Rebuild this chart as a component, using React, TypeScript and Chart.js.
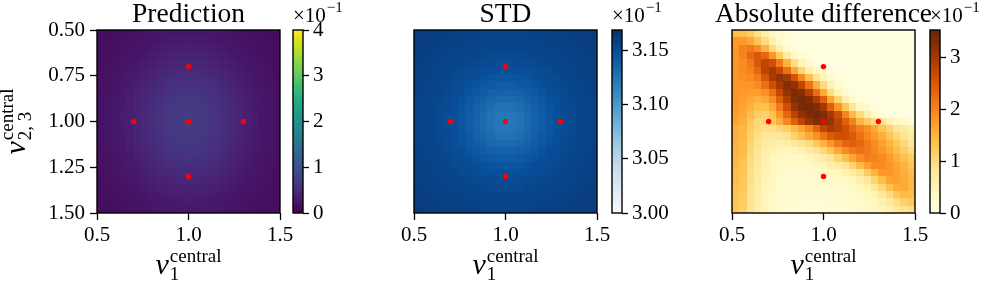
import React, { useEffect, useRef } from "react";
import { Chart, registerables } from "chart.js";

Chart.register(...registerables);

// ---------------- data ----------------
const NU1_CENTERS = [0.52, 0.56, 0.6, 0.64, 0.68, 0.72, 0.76, 0.8, 0.84, 0.88, 0.92, 0.96, 1.0, 1.04, 1.08, 1.12, 1.16, 1.2, 1.24, 1.28, 1.32, 1.36, 1.4, 1.44, 1.48];
const NU23_CENTERS = [0.52, 0.56, 0.6, 0.64, 0.68, 0.72, 0.76, 0.8, 0.84, 0.88, 0.92, 0.96, 1.0, 1.04, 1.08, 1.12, 1.16, 1.2, 1.24, 1.28, 1.32, 1.36, 1.4, 1.44, 1.48];
const CELL_HALF = 0.02;

const X_TICKS = [0.5, 1.0, 1.5];
const Y_TICKS = [0.5, 0.75, 1.0, 1.25, 1.5];

const SAMPLE_NU1 = [1.0, 0.7, 1.0, 1.3, 1.0];
const SAMPLE_NU23 = [0.7, 1.0, 1.0, 1.0, 1.3];

const PRED_TICKS = [0, 1, 2, 3, 4];
const STD_TICKS = [3.0, 3.05, 3.1, 3.15];
const DIFF_TICKS = [0, 1, 2, 3];
const PRED_LIMITS = [0, 4];
const STD_LIMITS = [3.0, 3.169];
const DIFF_LIMITS = [0, 3.53];

// values in units of 1e-1
const PREDICTION = [
  [0.12,0.13,0.14,0.15,0.17,0.18,0.20,0.21,0.23,0.24,0.25,0.26,0.26,0.26,0.25,0.24,0.23,0.21,0.20,0.18,0.17,0.15,0.14,0.13,0.12],
  [0.13,0.14,0.15,0.17,0.18,0.20,0.22,0.24,0.26,0.27,0.29,0.29,0.30,0.29,0.29,0.27,0.26,0.24,0.22,0.20,0.18,0.17,0.15,0.14,0.13],
  [0.14,0.15,0.16,0.18,0.20,0.22,0.24,0.27,0.29,0.31,0.33,0.34,0.34,0.34,0.33,0.31,0.29,0.27,0.24,0.22,0.20,0.18,0.16,0.15,0.14],
  [0.14,0.16,0.18,0.20,0.22,0.24,0.27,0.30,0.33,0.35,0.37,0.38,0.39,0.38,0.37,0.35,0.33,0.30,0.27,0.24,0.22,0.20,0.18,0.16,0.14],
  [0.15,0.17,0.19,0.21,0.24,0.27,0.30,0.34,0.37,0.39,0.42,0.43,0.44,0.43,0.42,0.39,0.37,0.34,0.30,0.27,0.24,0.21,0.19,0.17,0.15],
  [0.16,0.18,0.20,0.23,0.26,0.29,0.33,0.37,0.40,0.43,0.46,0.48,0.48,0.48,0.46,0.43,0.40,0.37,0.33,0.29,0.26,0.23,0.20,0.18,0.16],
  [0.16,0.19,0.21,0.24,0.28,0.32,0.36,0.40,0.44,0.48,0.51,0.52,0.53,0.52,0.51,0.48,0.44,0.40,0.36,0.32,0.28,0.24,0.21,0.19,0.16],
  [0.17,0.19,0.22,0.26,0.29,0.34,0.38,0.43,0.47,0.51,0.55,0.56,0.57,0.56,0.55,0.51,0.47,0.43,0.38,0.34,0.29,0.26,0.22,0.19,0.17],
  [0.18,0.20,0.23,0.27,0.31,0.36,0.41,0.46,0.51,0.55,0.59,0.61,0.62,0.61,0.59,0.55,0.51,0.46,0.41,0.36,0.31,0.27,0.23,0.20,0.18],
  [0.18,0.21,0.24,0.28,0.33,0.38,0.43,0.49,0.54,0.58,0.62,0.64,0.65,0.64,0.62,0.58,0.54,0.49,0.43,0.38,0.33,0.28,0.24,0.21,0.18],
  [0.19,0.22,0.25,0.29,0.34,0.39,0.45,0.50,0.56,0.60,0.64,0.66,0.68,0.66,0.64,0.60,0.56,0.50,0.45,0.39,0.34,0.29,0.25,0.22,0.19],
  [0.19,0.22,0.25,0.30,0.34,0.40,0.46,0.52,0.57,0.62,0.66,0.68,0.69,0.68,0.66,0.62,0.57,0.52,0.46,0.40,0.34,0.30,0.25,0.22,0.19],
  [0.19,0.22,0.26,0.30,0.35,0.40,0.46,0.52,0.57,0.62,0.66,0.69,0.70,0.69,0.66,0.62,0.57,0.52,0.46,0.40,0.35,0.30,0.26,0.22,0.19],
  [0.19,0.22,0.25,0.30,0.34,0.40,0.46,0.52,0.57,0.62,0.66,0.68,0.69,0.68,0.66,0.62,0.57,0.52,0.46,0.40,0.34,0.30,0.25,0.22,0.19],
  [0.19,0.22,0.25,0.29,0.34,0.39,0.45,0.50,0.56,0.60,0.64,0.66,0.68,0.66,0.64,0.60,0.56,0.50,0.45,0.39,0.34,0.29,0.25,0.22,0.19],
  [0.18,0.21,0.24,0.28,0.33,0.38,0.43,0.49,0.54,0.58,0.62,0.64,0.65,0.64,0.62,0.58,0.54,0.49,0.43,0.38,0.33,0.28,0.24,0.21,0.18],
  [0.18,0.20,0.23,0.27,0.31,0.36,0.41,0.46,0.51,0.55,0.59,0.61,0.62,0.61,0.59,0.55,0.51,0.46,0.41,0.36,0.31,0.27,0.23,0.20,0.18],
  [0.17,0.19,0.22,0.26,0.29,0.34,0.38,0.43,0.47,0.51,0.55,0.56,0.57,0.56,0.55,0.51,0.47,0.43,0.38,0.34,0.29,0.26,0.22,0.19,0.17],
  [0.16,0.19,0.21,0.24,0.28,0.32,0.36,0.40,0.44,0.48,0.51,0.52,0.53,0.52,0.51,0.48,0.44,0.40,0.36,0.32,0.28,0.24,0.21,0.19,0.16],
  [0.16,0.18,0.20,0.23,0.26,0.29,0.33,0.37,0.40,0.43,0.46,0.48,0.48,0.48,0.46,0.43,0.40,0.37,0.33,0.29,0.26,0.23,0.20,0.18,0.16],
  [0.15,0.17,0.19,0.21,0.24,0.27,0.30,0.34,0.37,0.39,0.42,0.43,0.44,0.43,0.42,0.39,0.37,0.34,0.30,0.27,0.24,0.21,0.19,0.17,0.15],
  [0.14,0.16,0.18,0.20,0.22,0.24,0.27,0.30,0.33,0.35,0.37,0.38,0.39,0.38,0.37,0.35,0.33,0.30,0.27,0.24,0.22,0.20,0.18,0.16,0.14],
  [0.14,0.15,0.16,0.18,0.20,0.22,0.24,0.27,0.29,0.31,0.33,0.34,0.34,0.34,0.33,0.31,0.29,0.27,0.24,0.22,0.20,0.18,0.16,0.15,0.14],
  [0.13,0.14,0.15,0.17,0.18,0.20,0.22,0.24,0.26,0.27,0.29,0.29,0.30,0.29,0.29,0.27,0.26,0.24,0.22,0.20,0.18,0.17,0.15,0.14,0.13],
  [0.12,0.13,0.14,0.15,0.17,0.18,0.20,0.21,0.23,0.24,0.25,0.26,0.26,0.26,0.25,0.24,0.23,0.21,0.20,0.18,0.17,0.15,0.14,0.13,0.12],
];

const STD = [
  [3.161,3.160,3.160,3.160,3.159,3.159,3.158,3.158,3.158,3.157,3.157,3.157,3.157,3.157,3.157,3.157,3.158,3.158,3.158,3.159,3.159,3.160,3.160,3.160,3.161],
  [3.160,3.160,3.160,3.159,3.159,3.158,3.158,3.157,3.157,3.156,3.156,3.156,3.156,3.156,3.156,3.156,3.157,3.157,3.158,3.158,3.159,3.159,3.160,3.160,3.160],
  [3.160,3.160,3.159,3.158,3.158,3.157,3.157,3.156,3.156,3.155,3.155,3.155,3.155,3.155,3.155,3.155,3.156,3.156,3.157,3.157,3.158,3.158,3.159,3.160,3.160],
  [3.160,3.159,3.158,3.158,3.157,3.156,3.156,3.155,3.155,3.154,3.153,3.153,3.153,3.153,3.153,3.154,3.155,3.155,3.156,3.156,3.157,3.158,3.158,3.159,3.160],
  [3.159,3.159,3.158,3.157,3.156,3.156,3.155,3.154,3.153,3.152,3.152,3.151,3.151,3.151,3.152,3.152,3.153,3.154,3.155,3.156,3.156,3.157,3.158,3.159,3.159],
  [3.159,3.158,3.157,3.156,3.156,3.155,3.153,3.152,3.151,3.150,3.150,3.149,3.149,3.149,3.150,3.150,3.151,3.152,3.153,3.155,3.156,3.156,3.157,3.158,3.159],
  [3.158,3.158,3.157,3.156,3.155,3.153,3.152,3.151,3.150,3.148,3.146,3.145,3.145,3.145,3.146,3.148,3.150,3.151,3.152,3.153,3.155,3.156,3.157,3.158,3.158],
  [3.158,3.157,3.156,3.155,3.154,3.152,3.151,3.149,3.147,3.144,3.143,3.141,3.141,3.141,3.143,3.144,3.147,3.149,3.151,3.152,3.154,3.155,3.156,3.157,3.158],
  [3.158,3.157,3.156,3.155,3.153,3.151,3.150,3.147,3.144,3.141,3.138,3.137,3.136,3.137,3.138,3.141,3.144,3.147,3.150,3.151,3.153,3.155,3.156,3.157,3.158],
  [3.157,3.156,3.155,3.154,3.152,3.150,3.148,3.144,3.141,3.137,3.134,3.132,3.131,3.132,3.134,3.137,3.141,3.144,3.148,3.150,3.152,3.154,3.155,3.156,3.157],
  [3.157,3.156,3.155,3.153,3.152,3.150,3.146,3.143,3.138,3.134,3.130,3.127,3.126,3.127,3.130,3.134,3.138,3.143,3.146,3.150,3.152,3.153,3.155,3.156,3.157],
  [3.157,3.156,3.155,3.153,3.151,3.149,3.145,3.141,3.137,3.132,3.127,3.124,3.122,3.124,3.127,3.132,3.137,3.141,3.145,3.149,3.151,3.153,3.155,3.156,3.157],
  [3.157,3.156,3.155,3.153,3.151,3.149,3.145,3.141,3.136,3.131,3.126,3.122,3.120,3.122,3.126,3.131,3.136,3.141,3.145,3.149,3.151,3.153,3.155,3.156,3.157],
  [3.157,3.156,3.155,3.153,3.151,3.149,3.145,3.141,3.137,3.132,3.127,3.124,3.122,3.124,3.127,3.132,3.137,3.141,3.145,3.149,3.151,3.153,3.155,3.156,3.157],
  [3.157,3.156,3.155,3.153,3.152,3.150,3.146,3.143,3.138,3.134,3.130,3.127,3.126,3.127,3.130,3.134,3.138,3.143,3.146,3.150,3.152,3.153,3.155,3.156,3.157],
  [3.157,3.156,3.155,3.154,3.152,3.150,3.148,3.144,3.141,3.137,3.134,3.132,3.131,3.132,3.134,3.137,3.141,3.144,3.148,3.150,3.152,3.154,3.155,3.156,3.157],
  [3.158,3.157,3.156,3.155,3.153,3.151,3.150,3.147,3.144,3.141,3.138,3.137,3.136,3.137,3.138,3.141,3.144,3.147,3.150,3.151,3.153,3.155,3.156,3.157,3.158],
  [3.158,3.157,3.156,3.155,3.154,3.152,3.151,3.149,3.147,3.144,3.143,3.141,3.141,3.141,3.143,3.144,3.147,3.149,3.151,3.152,3.154,3.155,3.156,3.157,3.158],
  [3.158,3.158,3.157,3.156,3.155,3.153,3.152,3.151,3.150,3.148,3.146,3.145,3.145,3.145,3.146,3.148,3.150,3.151,3.152,3.153,3.155,3.156,3.157,3.158,3.158],
  [3.159,3.158,3.157,3.156,3.156,3.155,3.153,3.152,3.151,3.150,3.150,3.149,3.149,3.149,3.150,3.150,3.151,3.152,3.153,3.155,3.156,3.156,3.157,3.158,3.159],
  [3.159,3.159,3.158,3.157,3.156,3.156,3.155,3.154,3.153,3.152,3.152,3.151,3.151,3.151,3.152,3.152,3.153,3.154,3.155,3.156,3.156,3.157,3.158,3.159,3.159],
  [3.160,3.159,3.158,3.158,3.157,3.156,3.156,3.155,3.155,3.154,3.153,3.153,3.153,3.153,3.153,3.154,3.155,3.155,3.156,3.156,3.157,3.158,3.158,3.159,3.160],
  [3.160,3.160,3.159,3.158,3.158,3.157,3.157,3.156,3.156,3.155,3.155,3.155,3.155,3.155,3.155,3.155,3.156,3.156,3.157,3.157,3.158,3.158,3.159,3.160,3.160],
  [3.160,3.160,3.160,3.159,3.159,3.158,3.158,3.157,3.157,3.156,3.156,3.156,3.156,3.156,3.156,3.156,3.157,3.157,3.158,3.158,3.159,3.159,3.160,3.160,3.160],
  [3.161,3.160,3.160,3.160,3.159,3.159,3.158,3.158,3.158,3.157,3.157,3.157,3.157,3.157,3.157,3.157,3.158,3.158,3.158,3.159,3.159,3.160,3.160,3.160,3.161],
];

const ABS_DIFF = [
  [1.4,1.35,1.2,0.95,0.65,0.4,0.2,0.12,0.08,0.06,0.05,0.05,0.04,0.04,0.04,0.04,0.04,0.04,0.04,0.04,0.04,0.04,0.04,0.04,0.04],
  [1.75,1.75,1.6,1.3,1.0,0.6,0.3,0.15,0.08,0.06,0.05,0.05,0.04,0.04,0.04,0.04,0.04,0.04,0.04,0.04,0.04,0.04,0.04,0.04,0.04],
  [1.8,2.0,2.1,1.9,1.5,1.0,0.6,0.3,0.15,0.08,0.06,0.05,0.04,0.04,0.04,0.04,0.04,0.04,0.04,0.04,0.04,0.04,0.04,0.04,0.04],
  [1.8,2.0,2.3,2.5,2.3,1.8,1.2,0.7,0.35,0.18,0.1,0.06,0.05,0.04,0.04,0.04,0.04,0.04,0.04,0.04,0.04,0.04,0.04,0.04,0.04],
  [1.8,1.9,2.1,2.5,2.75,2.6,2.1,1.5,0.95,0.5,0.25,0.12,0.07,0.05,0.04,0.04,0.04,0.04,0.04,0.04,0.04,0.04,0.04,0.04,0.04],
  [1.8,1.9,2.0,2.3,2.8,3.0,2.7,2.2,1.6,1.1,0.65,0.4,0.25,0.12,0.07,0.05,0.04,0.04,0.04,0.04,0.04,0.04,0.04,0.04,0.04],
  [1.8,1.85,1.9,2.1,2.5,2.95,3.15,3.0,2.55,1.95,1.35,0.85,0.5,0.27,0.14,0.08,0.05,0.04,0.04,0.04,0.04,0.04,0.04,0.04,0.04],
  [1.8,1.8,1.8,1.9,2.2,2.6,3.0,3.25,3.15,2.75,2.15,1.55,1.0,0.55,0.28,0.14,0.07,0.05,0.04,0.04,0.04,0.04,0.04,0.04,0.04],
  [1.8,1.75,1.7,1.7,1.85,2.2,2.7,3.1,3.35,3.25,2.85,2.25,1.6,1.0,0.5,0.25,0.12,0.07,0.05,0.04,0.04,0.04,0.04,0.04,0.04],
  [1.8,1.7,1.6,1.5,1.6,1.9,2.4,2.9,3.3,3.4,3.3,2.9,2.4,1.65,1.1,0.6,0.3,0.15,0.08,0.05,0.04,0.04,0.04,0.04,0.04],
  [1.75,1.65,1.5,1.35,1.35,1.6,2.1,2.6,3.1,3.35,3.4,3.3,3.0,2.4,1.8,1.3,0.8,0.45,0.25,0.12,0.07,0.05,0.04,0.04,0.04],
  [1.7,1.6,1.4,1.2,1.15,1.35,1.8,2.3,2.8,3.15,3.35,3.4,3.3,3.0,2.6,2.0,1.4,1.0,0.6,0.3,0.15,0.08,0.05,0.05,0.05],
  [1.65,1.55,1.25,1.05,1.05,1.25,1.55,1.95,2.4,2.8,3.1,3.3,3.3,3.1,2.8,2.4,2.0,1.5,1.2,1.0,0.8,0.55,0.35,0.25,0.2],
  [1.55,1.45,1.2,1.05,0.95,0.95,1.05,1.2,1.4,1.65,1.95,2.35,2.75,2.95,2.85,2.6,2.3,2.05,1.85,1.6,1.3,1.1,0.85,0.7,0.6],
  [1.55,1.45,1.15,0.95,0.8,0.75,0.8,0.9,1.15,1.35,1.6,1.85,2.15,2.45,2.6,2.6,2.45,2.2,1.95,1.75,1.55,1.3,1.05,0.85,0.7],
  [1.5,1.4,1.1,0.9,0.72,0.62,0.6,0.65,0.75,0.88,1.0,1.25,1.5,1.8,2.1,2.35,2.4,2.3,2.1,1.9,1.7,1.5,1.3,1.05,0.8],
  [1.5,1.4,1.05,0.85,0.65,0.52,0.46,0.45,0.48,0.55,0.68,0.85,1.05,1.3,1.6,1.9,2.1,2.2,2.1,1.95,1.8,1.6,1.4,1.2,1.0],
  [1.45,1.35,1.0,0.8,0.6,0.46,0.38,0.35,0.35,0.38,0.45,0.55,0.68,0.85,1.1,1.35,1.65,1.9,2.05,2.0,1.9,1.75,1.55,1.35,1.2],
  [1.45,1.3,0.98,0.75,0.56,0.42,0.33,0.29,0.28,0.29,0.32,0.38,0.45,0.55,0.68,0.85,1.1,1.4,1.7,1.9,1.9,1.8,1.65,1.5,1.3],
  [1.4,1.3,0.95,0.72,0.53,0.4,0.3,0.26,0.24,0.24,0.25,0.28,0.32,0.37,0.45,0.55,0.68,0.9,1.2,1.5,1.75,1.8,1.7,1.55,1.4],
  [1.4,1.25,0.92,0.7,0.5,0.38,0.28,0.24,0.22,0.21,0.21,0.22,0.24,0.27,0.32,0.38,0.47,0.6,0.8,1.1,1.4,1.65,1.7,1.6,1.45],
  [1.35,1.25,0.9,0.68,0.49,0.36,0.27,0.23,0.2,0.19,0.19,0.2,0.21,0.23,0.26,0.3,0.36,0.45,0.58,0.8,1.05,1.35,1.55,1.6,1.45],
  [1.35,1.2,0.88,0.66,0.48,0.35,0.26,0.22,0.19,0.18,0.18,0.18,0.19,0.21,0.23,0.26,0.3,0.36,0.45,0.58,0.77,1.0,1.25,1.42,1.4],
  [1.3,1.2,0.86,0.65,0.47,0.34,0.25,0.21,0.18,0.17,0.17,0.17,0.18,0.19,0.21,0.23,0.26,0.3,0.36,0.45,0.58,0.75,0.95,1.15,1.25],
  [1.3,1.15,0.85,0.64,0.46,0.34,0.25,0.2,0.18,0.17,0.16,0.16,0.17,0.18,0.19,0.21,0.23,0.27,0.31,0.38,0.47,0.6,0.75,0.9,0.98],
];

// ---------------- styles ----------------
const FONT = '"Liberation Serif", "Times New Roman", serif';
const VIRIDIS = ["#440154","#471365","#482475","#463480","#414487","#3b528b","#355f8d","#2f6c8e","#2a788e","#25848e","#21918c","#1e9c89","#22a884","#2fb47c","#44bf70","#5ec962","#7ad151","#9bd93c","#bddf26","#dfe318","#fde725"];
const BLUES = ["#f7fbff","#deebf7","#c6dbef","#9ecae1","#6baed6","#4292c6","#2171b5","#08519c","#08306b"];
const YLORBR = ["#ffffe5","#fff7bc","#fee391","#fec44f","#fe9929","#ec7014","#cc4c02","#993404","#662506"];

const PLOT_TOP = 30;
const PLOT_BOTTOM = 213;

function makeCmap(stops: string[]) {
  const rgb = stops.map((h) => [parseInt(h.slice(1, 3), 16), parseInt(h.slice(3, 5), 16), parseInt(h.slice(5, 7), 16)]);
  const n = rgb.length - 1;
  return (t: number) => {
    const tt = Math.max(0, Math.min(1, t));
    const f = tt * n;
    const i = Math.min(n - 1, Math.floor(f));
    const u = f - i;
    const a = rgb[i], b = rgb[i + 1];
    const r = Math.round(a[0] + (b[0] - a[0]) * u);
    const g = Math.round(a[1] + (b[1] - a[1]) * u);
    const bl = Math.round(a[2] + (b[2] - a[2]) * u);
    return `rgb(${r},${g},${bl})`;
  };
}

function drawNuLabel(ctx: CanvasRenderingContext2D, sub: string, x: number, y: number, rotated: boolean) {
  ctx.save();
  ctx.translate(x, y);
  if (rotated) ctx.rotate(-Math.PI / 2);
  ctx.fillStyle = "#000";
  ctx.textBaseline = "alphabetic";
  ctx.textAlign = "left";
  ctx.font = `italic 30px ${FONT}`;
  const wNu = ctx.measureText("ν").width;
  ctx.font = `19px ${FONT}`;
  const wSup = ctx.measureText("central").width;
  const wSub = ctx.measureText(sub).width;
  const total = wNu + 1 + Math.max(wSup, wSub);
  const x0 = -total / 2;
  ctx.font = `italic 30px ${FONT}`;
  ctx.fillText("ν", x0, 0);
  ctx.font = `19px ${FONT}`;
  ctx.fillText("central", x0 + wNu + 1, -12);
  ctx.fillText(sub, x0 + wNu + 1, 6);
  ctx.restore();
}

const tickGrid = {
  display: true,
  drawOnChartArea: false,
  drawTicks: true,
  tickLength: 7,
  tickWidth: 1.3,
  color: "#000",
  tickColor: "#000",
};

function heatConfig(o: any) {
  const cmap = makeCmap(o.stops);
  const heatPlugin = {
    id: "heat_" + o.id,
    beforeDatasetsDraw(chart: any) {
      const { ctx, scales } = chart;
      const xs = scales.x, ys = scales.y;
      const [vmin, vmax] = o.limits;
      ctx.save();
      for (let r = 0; r < NU23_CENTERS.length; r++) {
        const ya = Math.round(ys.getPixelForValue(NU23_CENTERS[r] - CELL_HALF));
        const yb = Math.round(ys.getPixelForValue(NU23_CENTERS[r] + CELL_HALF));
        for (let c = 0; c < NU1_CENTERS.length; c++) {
          const xa = Math.round(xs.getPixelForValue(NU1_CENTERS[c] - CELL_HALF));
          const xb = Math.round(xs.getPixelForValue(NU1_CENTERS[c] + CELL_HALF));
          ctx.fillStyle = cmap((o.grid[r][c] - vmin) / (vmax - vmin));
          ctx.fillRect(Math.min(xa, xb), Math.min(ya, yb), Math.abs(xb - xa), Math.abs(yb - ya));
        }
      }
      ctx.restore();
    },
    afterDatasetsDraw(chart: any) {
      const { ctx, chartArea: a } = chart;
      ctx.save();
      ctx.strokeStyle = "#000";
      ctx.lineWidth = 1.4;
      ctx.strokeRect(a.left, a.top, a.right - a.left, a.bottom - a.top);
      ctx.fillStyle = "#000";
      ctx.font = `27.5px ${FONT}`;
      ctx.textAlign = "center";
      ctx.textBaseline = "alphabetic";
      ctx.fillText(o.title, (a.left + a.right) / 2, 22);
      ctx.restore();
      drawNuLabel(ctx, "1", (a.left + a.right) / 2, 274, false);
      if (o.showY) drawNuLabel(ctx, "2, 3", 25, (a.top + a.bottom) / 2, true);
    },
  };
  return {
    target: { left: o.plotLeft, right: o.plotRight, top: PLOT_TOP, bottom: PLOT_BOTTOM },
    config: {
      type: "scatter",
      data: {
        datasets: [
          {
            data: SAMPLE_NU1.map((x, i) => ({ x, y: SAMPLE_NU23[i] })),
            pointRadius: 2.7,
            pointHoverRadius: 2.7,
            backgroundColor: "#ff0000",
            borderColor: "#ff0000",
            borderWidth: 0,
          },
        ],
      },
      options: {
        animation: false,
        responsive: false,
        maintainAspectRatio: false,
        devicePixelRatio: 1,
        events: [],
        layout: { padding: { left: o.padLeft, right: o.padRight, top: PLOT_TOP, bottom: 0 } },
        plugins: { legend: { display: false }, tooltip: { enabled: false }, title: { display: false } },
        scales: {
          x: {
            type: "linear",
            min: 0.5,
            max: 1.5,
            afterBuildTicks: (s: any) => {
              s.ticks = X_TICKS.map((v) => ({ value: v }));
            },
            afterFit: (s: any) => {
              s.height = 288 - PLOT_BOTTOM;
              s.paddingLeft = 0;
              s.paddingRight = 0;
            },
            ticks: {
              callback: (v: any) => Number(v).toFixed(1),
              font: { family: FONT, size: 21 },
              color: "#000",
              padding: 3,
              maxRotation: 0,
              autoSkip: false,
            },
            grid: tickGrid,
            border: { display: false },
          },
          y: {
            type: "linear",
            reverse: true,
            min: 0.5,
            max: 1.5,
            display: o.showY,
            afterBuildTicks: (s: any) => {
              s.ticks = Y_TICKS.map((v) => ({ value: v }));
            },
            afterFit: (s: any) => {
              s.width = o.yWidth;
              s.paddingTop = 0;
              s.paddingBottom = 0;
            },
            ticks: {
              callback: (v: any) => Number(v).toFixed(2),
              font: { family: FONT, size: 21 },
              color: "#000",
              padding: 5,
              autoSkip: false,
            },
            grid: tickGrid,
            border: { display: false },
          },
        },
      },
      plugins: [heatPlugin],
    },
  };
}

function cbConfig(o: any) {
  const cmap = makeCmap(o.stops);
  const cbPlugin = {
    id: "cb_" + o.id,
    afterDraw(chart: any) {
      const { ctx, chartArea: a, scales } = chart;
      const ys = scales.y;
      const [vmin, vmax] = o.limits;
      ctx.save();
      for (let py = Math.floor(a.top); py < Math.ceil(a.bottom); py++) {
        const v = ys.getValueForPixel(py + 0.5);
        ctx.fillStyle = cmap((v - vmin) / (vmax - vmin));
        ctx.fillRect(a.left, py, a.right - a.left, 1);
      }
      ctx.strokeStyle = "#000";
      ctx.lineWidth = 1.4;
      ctx.strokeRect(a.left, a.top, a.right - a.left, a.bottom - a.top);
      ctx.fillStyle = "#000";
      ctx.textBaseline = "alphabetic";
      ctx.textAlign = "left";
      ctx.font = `21px ${FONT}`;
      ctx.fillText("×10", a.left, 22);
      const w = ctx.measureText("×10").width;
      ctx.font = `15px ${FONT}`;
      ctx.fillText("−1", a.left + w + 1, 12);
      ctx.restore();
    },
  };
  return {
    target: { left: o.barLeft, right: o.barRight, top: PLOT_TOP, bottom: PLOT_BOTTOM },
    config: {
      type: "scatter",
      data: { datasets: [] },
      options: {
        animation: false,
        responsive: false,
        maintainAspectRatio: false,
        devicePixelRatio: 1,
        events: [],
        layout: { padding: { left: o.padLeft, right: 0, top: PLOT_TOP, bottom: 288 - PLOT_BOTTOM } },
        plugins: { legend: { display: false }, tooltip: { enabled: false } },
        scales: {
          x: { type: "linear", display: false, min: 0, max: 1 },
          y: {
            type: "linear",
            position: "right",
            min: o.limits[0],
            max: o.limits[1],
            afterBuildTicks: (s: any) => {
              s.ticks = o.ticks.map((v: number) => ({ value: v }));
            },
            afterFit: (s: any) => {
              s.width = o.yWidth;
              s.paddingTop = 0;
              s.paddingBottom = 0;
            },
            ticks: {
              callback: (v: any) => Number(v).toFixed(o.digits),
              font: { family: FONT, size: 21 },
              color: "#000",
              padding: 4,
              autoSkip: false,
            },
            grid: { ...tickGrid, tickLength: 6 },
            border: { display: false },
          },
        },
      },
      plugins: [cbPlugin],
    },
  };
}

function ChartCanvas({ left, width, make }: { left: number; width: number; make: () => any }) {
  const ref = useRef<HTMLCanvasElement | null>(null);
  useEffect(() => {
    if (!ref.current) return;
    const { config, target } = make();
    const chart: any = new Chart(ref.current, config);
    // nudge layout padding so that the plot area lands on the intended pixels
    for (let i = 0; i < 3; i++) {
      const a = chart.chartArea;
      const p = chart.options.layout.padding;
      const dl = target.left - left - a.left;
      const dr = target.right - left - a.right;
      const dt = target.top - a.top;
      const db = target.bottom - a.bottom;
      if (Math.abs(dl) < 0.01 && Math.abs(dr) < 0.01 && Math.abs(dt) < 0.01 && Math.abs(db) < 0.01) break;
      chart.options.layout.padding = {
        left: p.left + dl,
        right: p.right - dr,
        top: p.top + dt,
        bottom: p.bottom - db,
      };
      chart.update();
    }
    return () => chart.destroy();
  }, []);
  return (
    <canvas
      ref={ref}
      width={width}
      height={288}
      style={{ position: "absolute", left, top: 0, width, height: 288 }}
    />
  );
}

export default function App() {
  return (
    <div style={{ position: "absolute", left: 0, top: 0, width: 997, height: 288, background: "#fff", overflow: "hidden" }}>
      <ChartCanvas
        left={0}
        width={300}
        make={() =>
          heatConfig({ id: "pred", title: "Prediction", grid: PREDICTION, stops: VIRIDIS, limits: PRED_LIMITS, showY: true, yWidth: 97, padLeft: 0, padRight: 20, plotLeft: 97, plotRight: 280 })
        }
      />
      <ChartCanvas
        left={380}
        width={240}
        make={() =>
          heatConfig({ id: "std", title: "STD", grid: STD, stops: BLUES, limits: STD_LIMITS, showY: false, yWidth: 0, padLeft: 34, padRight: 23, plotLeft: 414, plotRight: 597 })
        }
      />
      <ChartCanvas
        left={700}
        width={240}
        make={() =>
          heatConfig({ id: "diff", title: "Absolute difference", grid: ABS_DIFF, stops: YLORBR, limits: DIFF_LIMITS, showY: false, yWidth: 0, padLeft: 32, padRight: 25, plotLeft: 732, plotRight: 915 })
        }
      />
      <ChartCanvas
        left={283}
        width={90}
        make={() =>
          cbConfig({ id: "pred", stops: VIRIDIS, limits: PRED_LIMITS, ticks: PRED_TICKS, digits: 0, padLeft: 10, yWidth: 70, barLeft: 293, barRight: 303 })
        }
      />
      <ChartCanvas
        left={602}
        width={90}
        make={() =>
          cbConfig({ id: "std", stops: BLUES, limits: STD_LIMITS, ticks: STD_TICKS, digits: 2, padLeft: 10, yWidth: 70, barLeft: 612, barRight: 622 })
        }
      />
      <ChartCanvas
        left={920}
        width={77}
        make={() =>
          cbConfig({ id: "diff", stops: YLORBR, limits: DIFF_LIMITS, ticks: DIFF_TICKS, digits: 0, padLeft: 10, yWidth: 57, barLeft: 930, barRight: 940 })
        }
      />
    </div>
  );
}
